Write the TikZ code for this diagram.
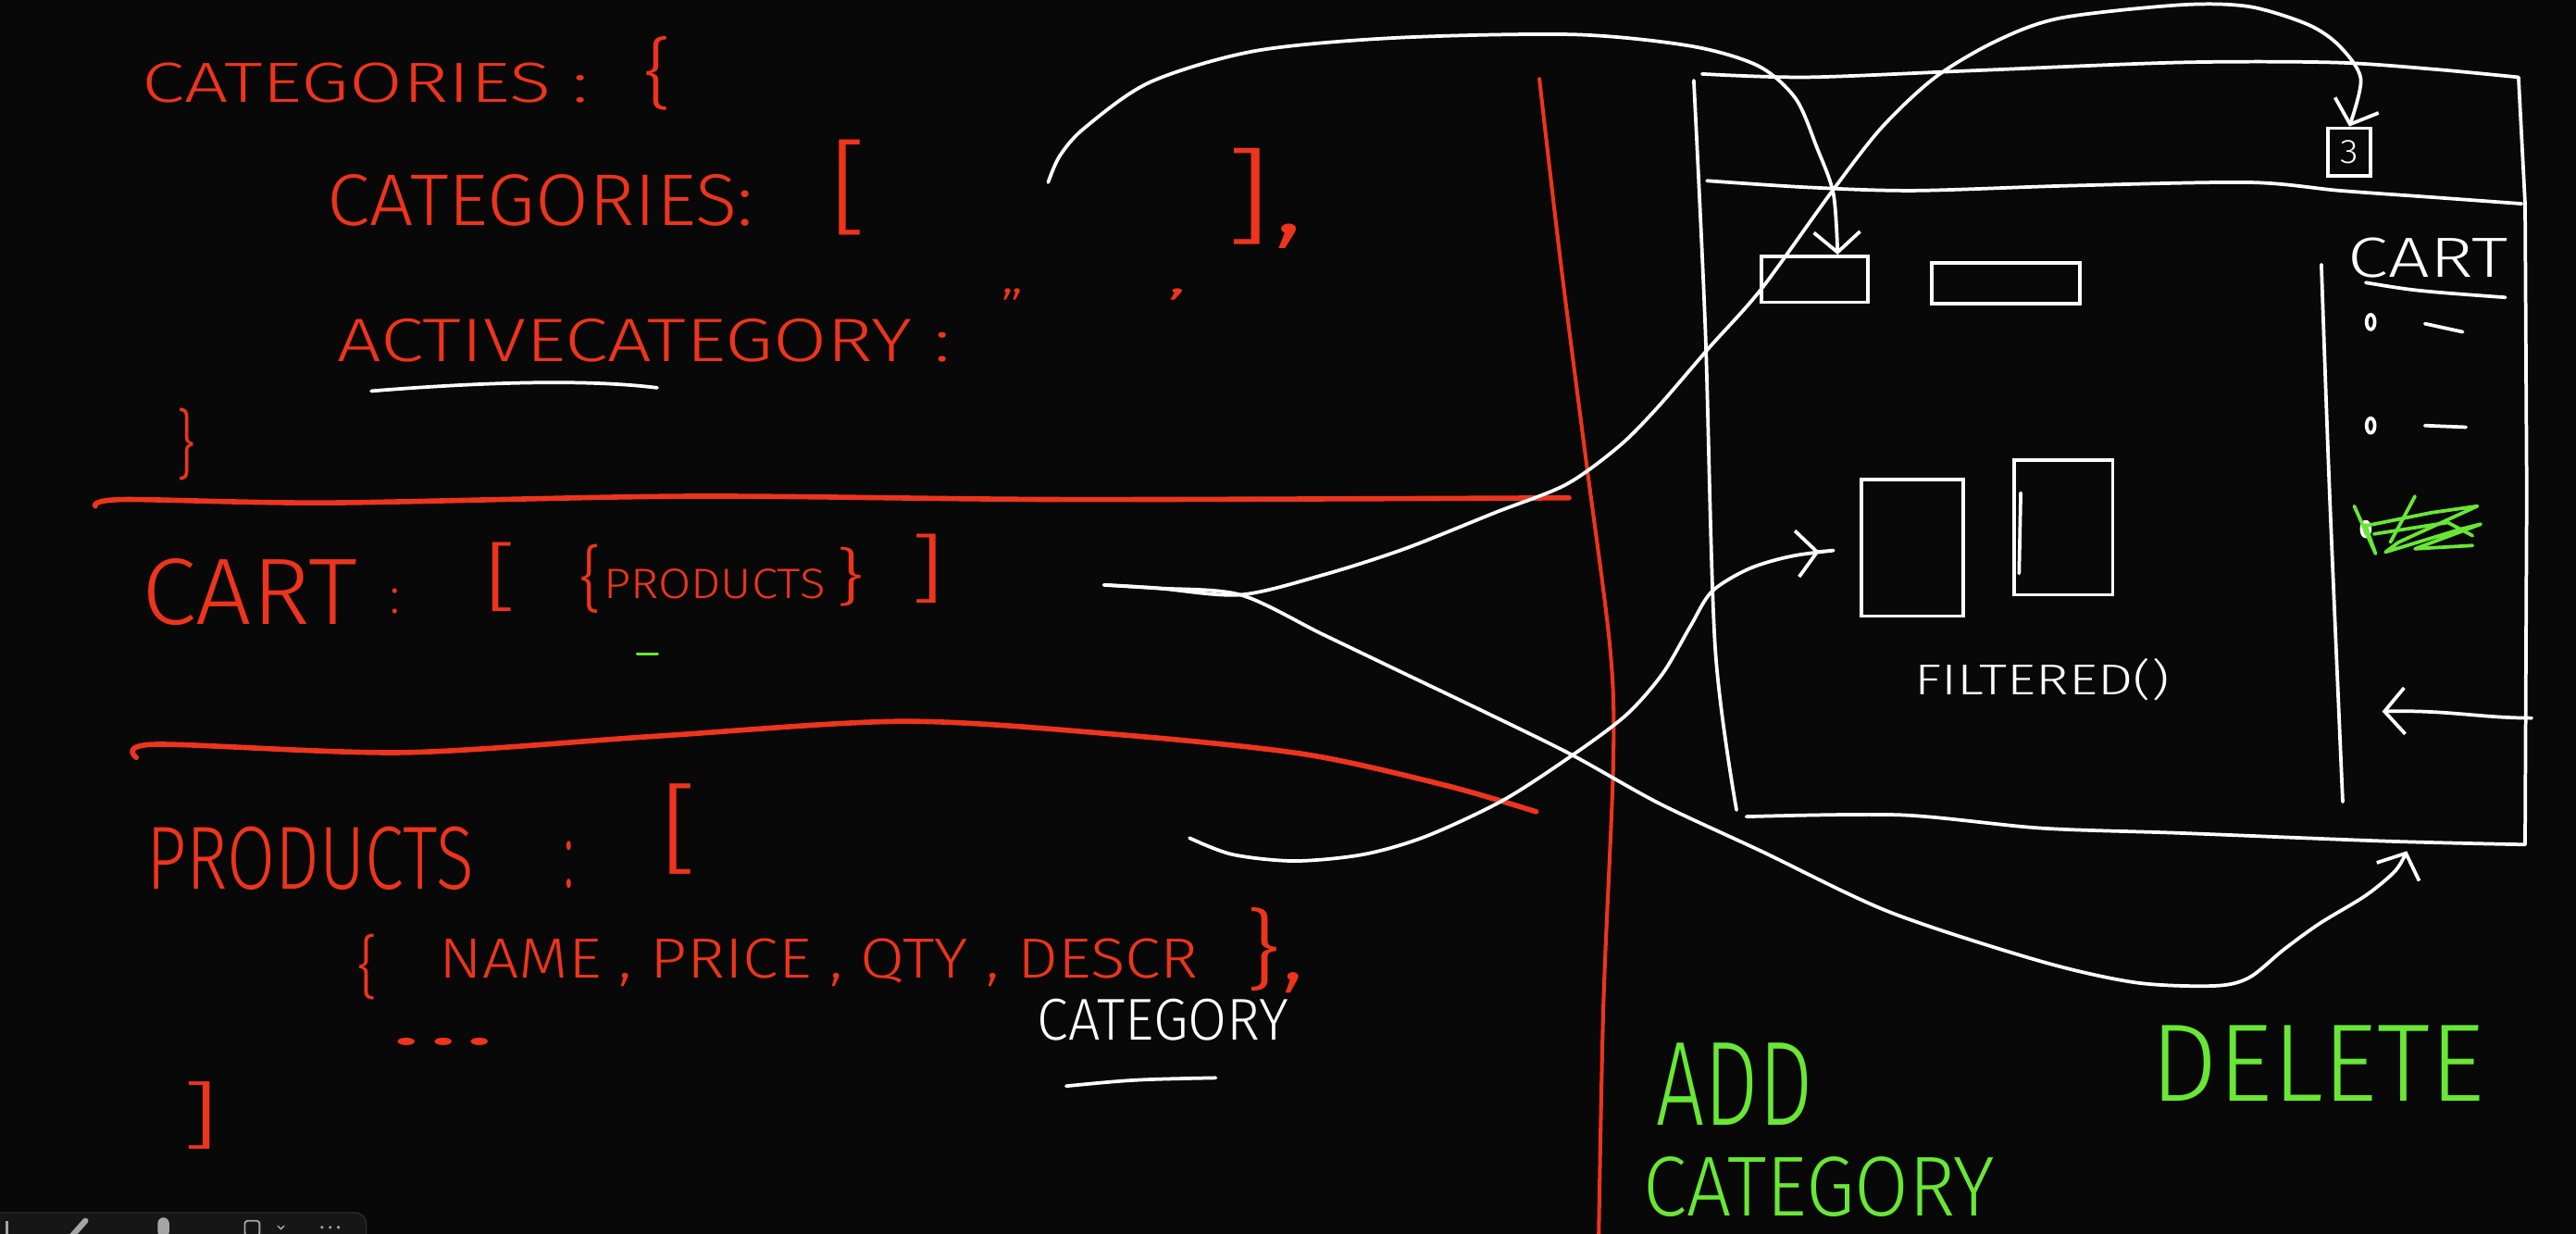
\documentclass[tikz,border=0pt]{standalone}
\usepackage{fontspec}
\IfFontExistsTF{Fira Sans Light}{\setmainfont{Fira Sans Light}}{%
  \IfFontExistsTF{Lato Light}{\setmainfont{Lato Light}}{\setmainfont{Liberation Sans}}}
\usepackage{graphicx}
\usepackage{xcolor}
\usepackage{tikz}
\usetikzlibrary{arrows.meta}

\definecolor{board}{RGB}{8,8,8}
\definecolor{inkred}{RGB}{238,52,28}
\definecolor{inkgreen}{RGB}{104,232,52}
\definecolor{barfill}{RGB}{22,22,22}
\definecolor{barline}{RGB}{45,45,45}
\definecolor{bargrey}{RGB}{165,165,165}

\newlength{\pxu}
\setlength{\pxu}{0.02cm}
\newcommand{\hw}[3]{\resizebox{#1\pxu}{#2\pxu}{#3}}
\newcommand{\hb}[3]{\resizebox*{#1\pxu}{#2\pxu}{#3}}

\tikzset{
  ink/.style={line width=1.2pt, line cap=round, line join=round},
  redpen/.style={ink, draw=inkred, line width=1.8pt},
  whitepen/.style={ink, draw=white},
  greenpen/.style={ink, draw=inkgreen},
  redword/.style={inner sep=0pt, anchor=base west, text=inkred},
  whiteword/.style={inner sep=0pt, anchor=base west, text=white},
  greenword/.style={inner sep=0pt, anchor=base west, text=inkgreen},
  redbrk/.style={inner sep=0pt, anchor=north west, text=inkred},
  wire/.style={draw=white, line width=1.2pt, inner sep=0pt},
  tip/.style={-{Straight Barb[length=7pt,width=16pt]}},
}

\begin{document}
\begin{tikzpicture}[x=0.02cm, y=-0.02cm]
  \fill[board] (0,0) rectangle (1568,751);
  \useasboundingbox (0,0) rectangle (1568,751);

  \node (storehead) at (86,62) [redword] {\hw{272}{24}{CATEGORIES :}};
  \node (storeopen) at (391,22) [redbrk] {\hb{18}{45}{\{}};
  \node (catlist) at (199,137) [redword] {\hw{259}{31}{CATEGORIES:}};
  \node (listopen) at (504,85) [redbrk] {\hb{24}{58}{[}};
  \node (listclose) at (745,90) [redbrk] {\hb{49}{61}{],}};
  \node (active) at (205,220) [redword] {\hw{373}{26}{ACTIVECATEGORY :}};
  \node (quoteopen) at (609,200) [redword] {\hw{14}{24}{''}};
  \node (quoteclose) at (709,200) [redword] {\hw{14}{24}{'}};
  \node (storeclose) at (107,248) [redbrk] {\hb{12}{44}{\}}};
  \draw[whitepen] (226,238) .. controls (300,232) and (360,231) .. (400,236);
  \draw[redpen] plot[smooth] coordinates {(58,308) (75,304) (200,306) (420,302) (650,304) (955,303)};

  \node (cart) at (86,380) [redword] {\hw{131}{40}{CART}};
  \node (cartcolon) at (237,373) [redword] {\hw{6}{15}{:}};
  \node (cartopen) at (294,330) [redbrk] {\hb{21}{42}{[}};
  \node (itemopen) at (352,331) [redbrk] {\hb{14}{42}{\{}};
  \node (cartitem) at (367,364) [redword] {\hw{135}{18}{PRODUCTS}};
  \node (itemclose) at (508,333) [redbrk] {\hb{18}{36}{\}}};
  \node (cartclose) at (553,325) [redbrk] {\hb{22}{42}{]}};
  \draw[greenpen] (388,398) -- (400,398);
  \draw[redpen] plot[smooth] coordinates {(83,461) (95,453) (245,458) (400,448) (550,439) (680,447) (794,459) (880,478) (935,494)};

  \node (products) at (89,541) [redword] {\hw{199}{38}{PRODUCTS}};
  \node (prodcolon) at (343,540) [redword] {\hw{6}{28}{:}};
  \node (prodopen) at (401,477) [redbrk] {\hb{24}{55}{[}};
  \node (fieldopen) at (217,568) [redbrk] {\hb{13}{40}{\{}};
  \node (fields) at (267,595) [redword] {\hw{462}{24}{NAME , PRICE , QTY , DESCR}};
  \node (fieldclose) at (757,552) [redbrk] {\hb{37}{52}{\},}};
  \node (more) at (236,636) [redword] {\hw{67}{4}{...}};
  \node (prodclose) at (110,658) [redbrk] {\hb{24}{41}{]}};
  \node (catfield) at (631,633) [whiteword] {\hw{153}{25}{CATEGORY}};
  \draw[whitepen] (649,661) .. controls (690,657) .. (740,656);

  \draw[redpen, line width=1.3pt] plot[smooth] coordinates {(937,48) (950,160) (965,277) (980,394) (982,464) (976,611) (973,760)};

  \draw[whitepen] plot[smooth] coordinates {(1036,45) (1100,47) (1200,43) (1327,38) (1420,38) (1480,42) (1533,47)} -- (1537,124) -- (1538,300) -- (1537,514);
  \draw[whitepen] plot[smooth] coordinates {(1031,49) (1038,200) (1044,394) (1057,493)};
  \draw[whitepen] plot[smooth] coordinates {(1063,497) (1157,496) (1242,504) (1327,507) (1454,512) (1537,514)};
  \draw[whitepen] plot[smooth] coordinates {(1039,110) (1100,114) (1165,116) (1260,113) (1369,111) (1424,116) (1480,120) (1535,124)};
  \draw[whitepen] plot[smooth] coordinates {(1413,161) (1418,300) (1426,488)};

  \node (badge) at (1430,92.5) [wire, minimum width=26\pxu, minimum height=29\pxu, text=white] {\hw{11}{14}{3}};
  \node (catbtn1) at (1104.5,170) [wire, minimum width=65\pxu, minimum height=28\pxu] {};
  \node (catbtn2) at (1221,172.5) [wire, minimum width=90\pxu, minimum height=25\pxu] {};
  \node (card1) at (1164,333.5) [wire, minimum width=62\pxu, minimum height=83\pxu] {};
  \node (card2) at (1256,321) [wire, minimum width=60\pxu, minimum height=82\pxu] {};
  \draw[whitepen] (1230,300) -- (1229,349);
  \node (filtered) at (1165,423) [whiteword] {\hw{155}{22}{FILTERED()}};

  \node (cartlabel) at (1429,169) [whiteword] {\hw{97}{24}{CART}};
  \draw[whitepen] (1440,172) .. controls (1470,177) .. (1525,181);
  \draw[whitepen] (1443,196) ellipse [x radius=2.5, y radius=4.5];
  \draw[whitepen] (1476,197) -- (1499,202);
  \draw[whitepen] (1443,259) ellipse [x radius=2.5, y radius=4.5];
  \draw[whitepen] (1476,259) -- (1501,260);
  \draw[whitepen] (1440,322) ellipse [x radius=2.5, y radius=4.5];
  \draw[greenpen] (1433,308) -- (1446,337) -- (1440,320) -- (1480,312) -- (1508,308) -- (1460,330) -- (1452,336) -- (1498,322) -- (1510,319) -- (1470,334) -- (1505,332);
  \draw[greenpen] (1470,302) -- (1455,330);
  \draw[greenpen] (1445,325) -- (1490,318) -- (1505,326);
  \coordinate (dropin) at (1541,437);
  \coordinate (dropout) at (1450,433);
  \draw[whitepen, tip] (dropin) .. controls (1510,437) and (1490,432) .. (dropout);

  \coordinate (catsrc) at (638,111);
  \coordinate (cartsrc) at (672,356);
  \coordinate (prodsrc) at (724,510);
  \coordinate (framebot) at (1465,518);

  \draw[whitepen, tip] plot[smooth] coordinates {(catsrc) (645,95) (660,78) (700,50) (764,31) (850,23) (958,21) (1029,28) (1070,40) (1093,60) (1106,90) (1116,118) (catbtn1.47)};
  \draw[whitepen, tip] plot[smooth] coordinates {(cartsrc) (705,358) (755,362) (805,350) (855,334) (910,312) (953,295) (985,272) (1008,249) (1040,212) (1072,176) (1114,118) (1145,78) (1178,47) (1215,25) (1254,11) (1327,3) (1369,4) (1405,15) (1424,28) (1437,48) (badge.north)};
  \draw[whitepen, tip] plot[smooth] coordinates {(cartsrc) (705,358) (755,362) (805,386) (855,410) (901,432) (956,459) (1010,489) (1072,518) (1150,555) (1242,585) (1300,598) (1348,600) (1369,595) (1390,578) (1412,562) (1440,545) (1458,530) (framebot)};
  \draw[whitepen, tip, shorten >=14pt] plot[smooth] coordinates {(prodsrc) (750,520) (788,524) (830,520) (868,509) (915,487) (958,459) (990,435) (1012,410) (1029,381) (1042,360) (1065,346) (1093,338) (card1.west)};

  \node (addcat) at (1008,685) [greenword] {\hw{95}{50}{ADD}};
  \node (addcat2) at (1000,740) [greenword] {\hw{214}{36}{CATEGORY}};
  \node (delete) at (1309,670) [greenword] {\hw{203}{46}{DELETE}};

  \draw[fill=barfill, draw=barline, rounded corners=4pt] (-10,738) rectangle (223,770);
  \draw[bargrey, line width=1pt] (4,743) -- (4,752);
  \draw[bargrey, line width=2pt, line cap=round] (44,752) -- (52,743);
  \fill[bargrey, rounded corners=2pt] (96,741) rectangle (103,753);
  \draw[bargrey, line width=0.6pt, rounded corners=1pt] (149,743) rectangle (158,752);
  \draw[bargrey, line width=0.5pt] (169,746) -- (171,748) -- (173,746);
  \foreach \dx in {196,201,206} \fill[bargrey] (\dx,747) circle (1);
\end{tikzpicture}
\end{document}
